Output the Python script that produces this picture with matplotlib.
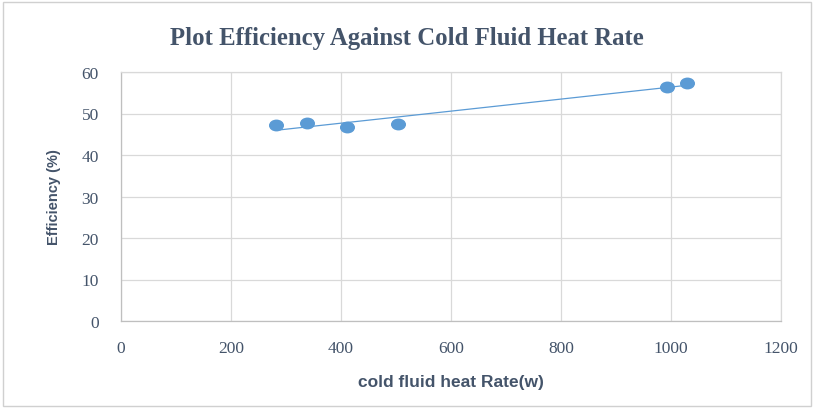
import matplotlib.pyplot as plt
import numpy as np
from matplotlib.patches import Rectangle
from matplotlib.path import Path
from matplotlib.transforms import Affine2D

# Data
heat_rate = [282, 338, 411, 504, 993, 1029]       # cold fluid heat rate (w)
efficiency = [47.2, 47.7, 46.7, 47.5, 56.4, 57.3]  # efficiency (%)

x_ticks = [0, 200, 400, 600, 800, 1000, 1200]
y_ticks = [0, 10, 20, 30, 40, 50, 60]

text_color = '#44546A'
grid_color = '#D9D9D9'
point_color = '#5B9BD5'

fig = plt.figure(figsize=(8.14, 4.10), dpi=100)
ax = fig.add_axes([121 / 814, 1 - 322 / 410, 660 / 814, 249 / 410])

# Outer chart border
fig.patches.append(Rectangle((0.004, 0.007), 0.992, 0.986, transform=fig.transFigure,
                             fill=False, edgecolor='#D0D0D0', linewidth=1))

# Linear trendline
coef = np.polyfit(heat_rate, efficiency, 1)
trend_x = np.array([min(heat_rate), max(heat_rate)])
ax.plot(trend_x, np.polyval(coef, trend_x), color=point_color, linewidth=0.9, zorder=2)

# slightly wide oval markers (the original picture is stretched sideways)
oval = Path.unit_circle().transformed(Affine2D().scale(1.3, 1.0))
ax.plot(heat_rate, efficiency, linestyle='none', marker=oval, color=point_color,
        markersize=9.8, markeredgecolor=point_color, zorder=3)

ax.set_xlim(0, 1200)
ax.set_ylim(0, 60)
ax.set_xticks(x_ticks)
ax.set_yticks(y_ticks)
ax.grid(True, color=grid_color, linewidth=0.9)
ax.set_axisbelow(True)
for side in ['top', 'right', 'left', 'bottom']:
    ax.spines[side].set_color(grid_color)
    ax.spines[side].set_linewidth(0.9)
ax.spines['left'].set_color('#BFBFBF')
ax.spines['bottom'].set_color('#BFBFBF')

ax.tick_params(length=0, labelsize=12.5, labelcolor=text_color)
for lbl in ax.get_xticklabels() + ax.get_yticklabels():
    lbl.set_family('Liberation Serif')
ax.tick_params(axis='y', pad=16)
ax.tick_params(axis='x', pad=14)

ax.set_xlabel('cold fluid heat Rate(w)', fontsize=12.5, color=text_color,
              family='Liberation Sans', fontweight='bold', labelpad=13)
ax.set_ylabel('Efficiency (%)', fontsize=10.5, color=text_color,
              family='Liberation Sans', fontweight='bold', labelpad=15)

fig.text(0.5, 1 - 39 / 410, 'Plot Efficiency Against Cold Fluid Heat Rate', ha='center',
         va='center', fontsize=17.8, fontweight='bold', color=text_color,
         family='Liberation Serif')

fig.savefig('out.png', dpi=100)
